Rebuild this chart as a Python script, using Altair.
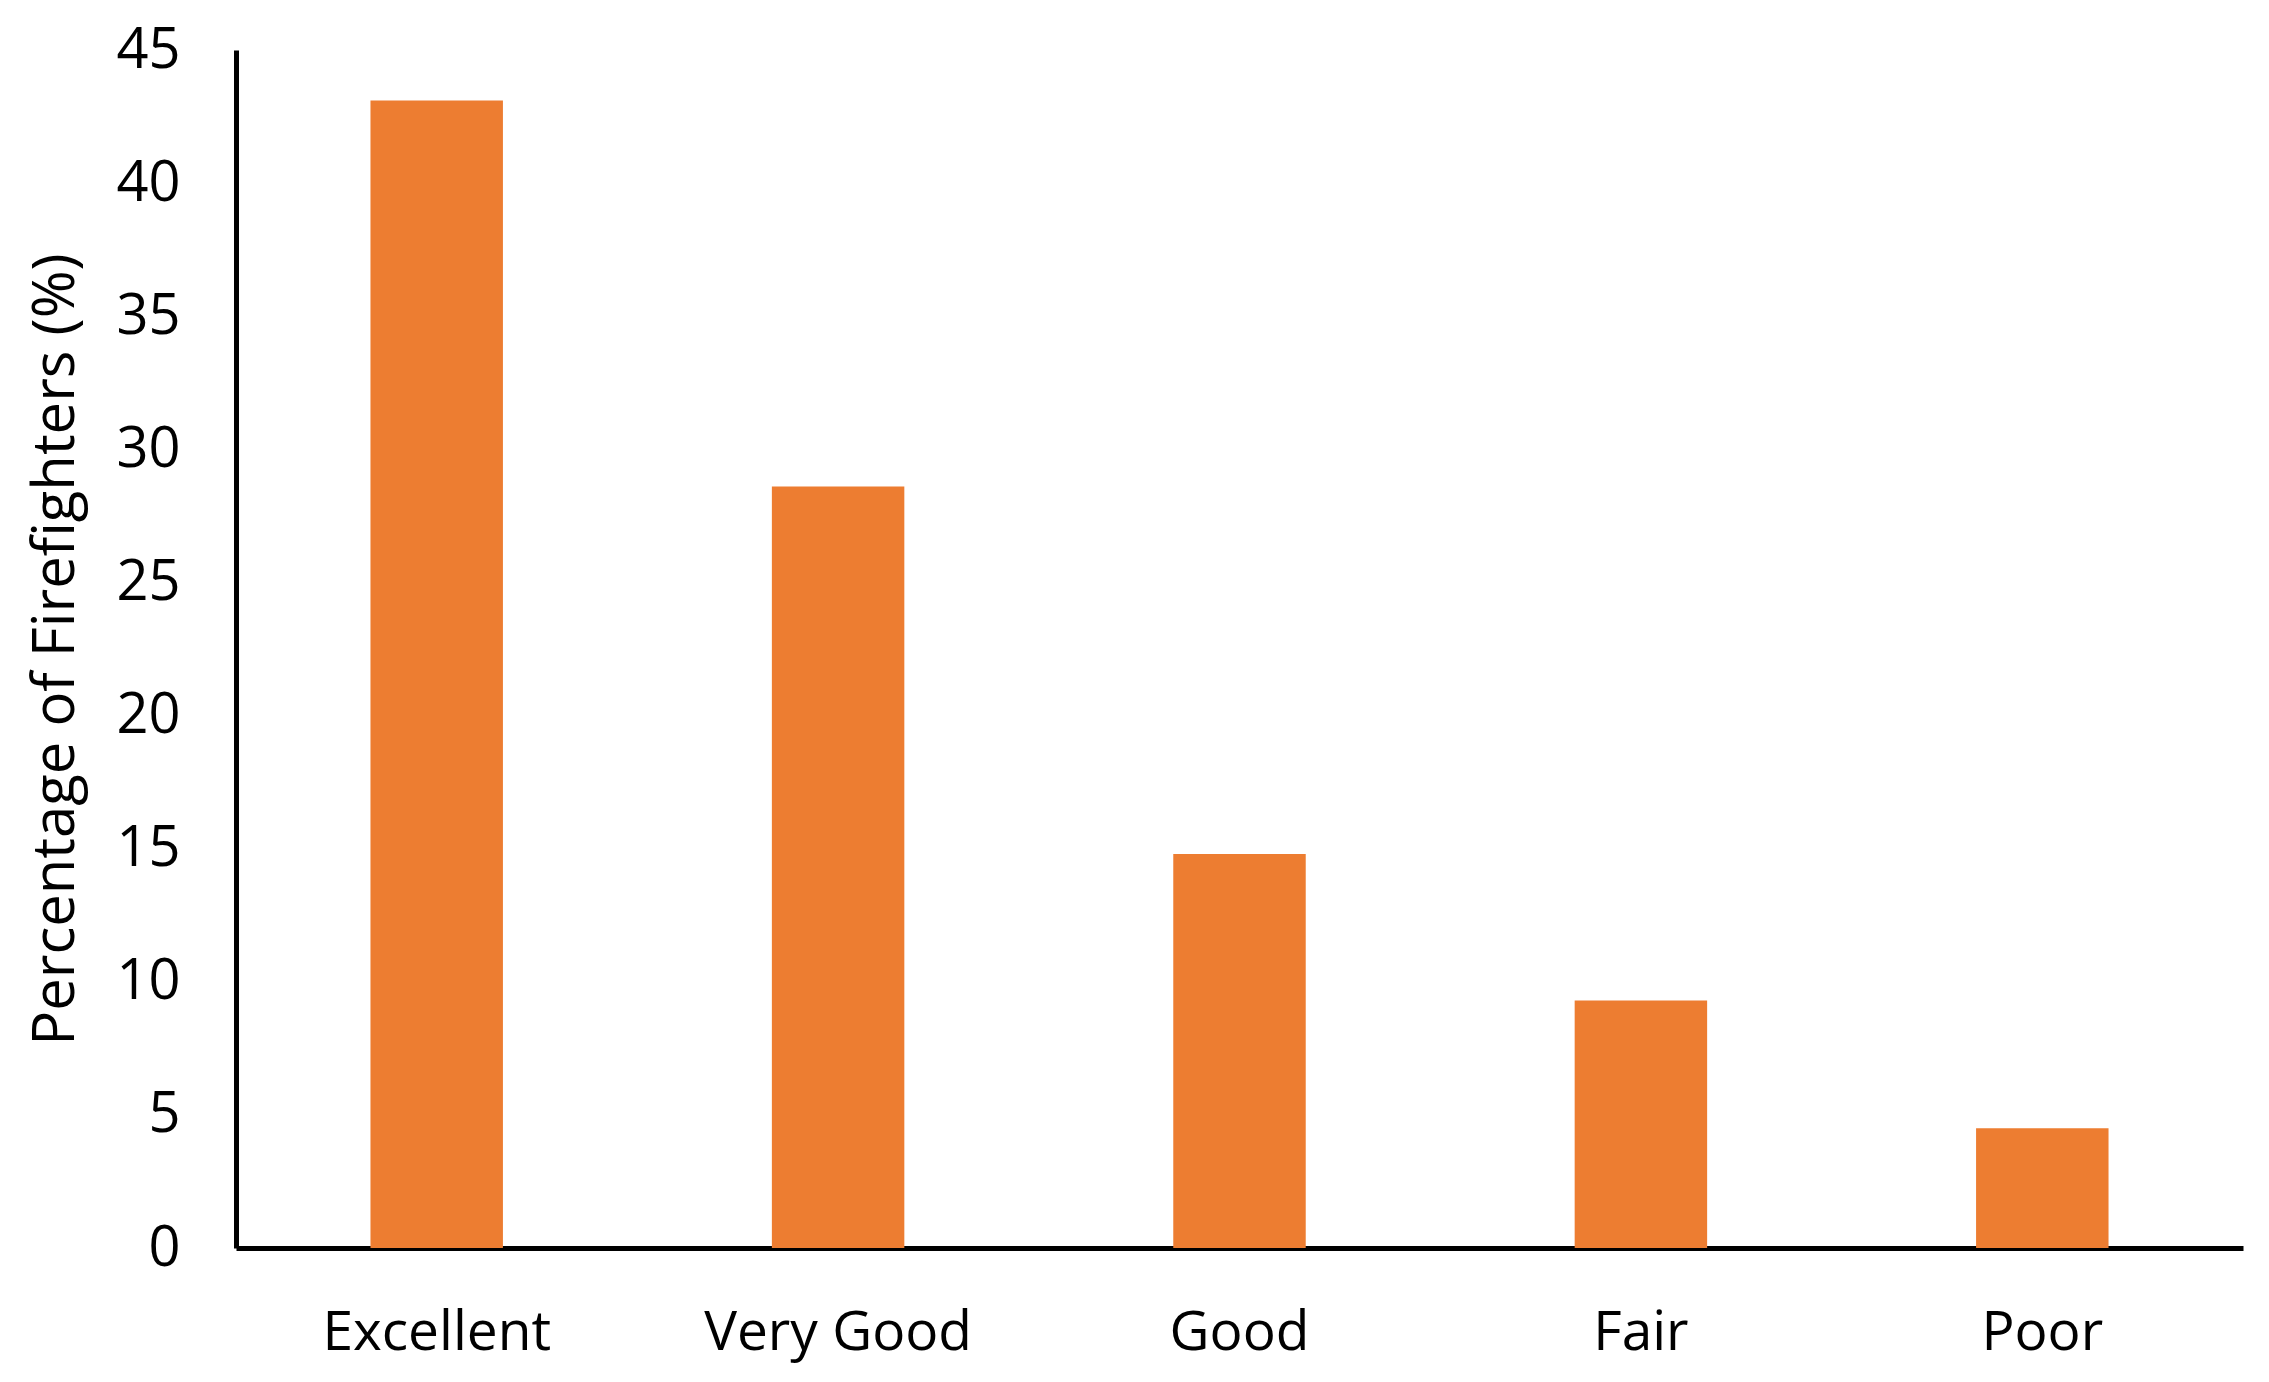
import altair as alt
import pandas as pd

categories = ["Excellent", "Very Good", "Good", "Fair", "Poor"]
values = [43.1, 28.6, 14.8, 9.3, 4.5]
y_ticks = [0, 5, 10, 15, 20, 25, 30, 35, 40, 45]

df = pd.DataFrame({"rating": categories, "pct": values})

FONT = "Open Sans"

chart = alt.Chart(df).mark_bar(color="#ED7D31").encode(
    x=alt.X(
        "rating:N",
        sort=categories,
        scale=alt.Scale(paddingInner=0.67, paddingOuter=0.335),
        axis=alt.Axis(
            title=None,
            labelAngle=0,
            labelFont=FONT,
            labelFontSize=55,
            labelColor="#000000",
            labelPadding=58,
            labelLimit=0,
            ticks=False,
            tickSize=0,
            domainColor="#000000",
            domainWidth=5,
            grid=False,
        ),
    ),
    y=alt.Y(
        "pct:Q",
        scale=alt.Scale(domain=[0, 45], nice=False),
        axis=alt.Axis(
            title="Percentage of Firefighters (%)",
            titleFont=FONT,
            titleFontSize=58,
            titleFontWeight="normal",
            titleColor="#000000",
            titlePadding=30,
            values=y_ticks,
            labelFont=FONT,
            labelFontSize=56,
            labelColor="#000000",
            labelPadding=56,
            labelLimit=0,
            ticks=False,
            tickSize=0,
            domainColor="#000000",
            domainWidth=5,
            grid=False,
        ),
    ),
).properties(
    width=2007,
    height=1198,
    background="#ffffff",
    padding={"left": 228, "top": 42, "right": 10, "bottom": 120},
    autosize=alt.AutoSizeParams(type="none"),
).configure_view(stroke=None, strokeWidth=0)

chart.save("out.html", embed_options={"renderer": "svg", "actions": False})
